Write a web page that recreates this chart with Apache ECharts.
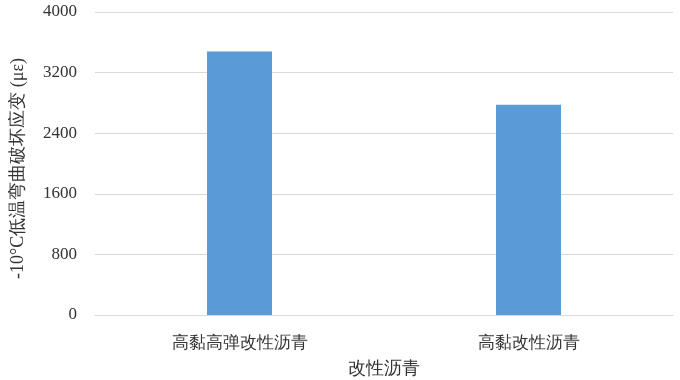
<!DOCTYPE html>
<html><head><meta charset="utf-8">
<script src="https://cdn.jsdelivr.net/npm/echarts@6/dist/echarts.min.js"></script>
<style>html,body{margin:0;padding:0;background:#fff}#c{width:680px;height:380px}</style>
</head><body><div id="c"></div>
<script>
const categories = ['高黏高弹改性沥青', '高黏改性沥青'];
const values = [3480, 2775];
const yTicks = [0, 800, 1600, 2400, 3200, 4000];
const fontFam = "'Liberation Serif'";
const chart = echarts.init(document.getElementById('c'));
chart.setOption({
  animation: false,
  textStyle: {fontFamily: fontFam},
  grid: {left: 95, right: 7, top: 12, bottom: 65, outerBoundsMode: 'none', containLabel: false},
  xAxis: {
    type: 'category', data: categories,
    name: '改性沥青', nameLocation: 'middle', nameGap: 45,
    nameTextStyle: {color: '#333333', fontSize: 18, fontFamily: fontFam},
    axisLine: {lineStyle: {color: '#d9d9d9'}},
    axisTick: {show: false},
    axisLabel: {color: '#333333', fontSize: 17, fontFamily: fontFam, margin: 20}
  },
  yAxis: {
    type: 'value', min: yTicks[0], max: yTicks[yTicks.length-1], interval: 800,
    name: '-10°C低温弯曲破坏应变 (με)', nameLocation: 'middle', nameGap: 68,
    nameTextStyle: {color: '#333333', fontSize: 18, fontFamily: fontFam, padding: [0, 10, 0, 0]},
    axisLine: {show: false}, axisTick: {show: false},
    splitLine: {lineStyle: {color: '#d9d9d9'}},
    axisLabel: {color: '#333333', fontSize: 17, fontFamily: fontFam, margin: 18, formatter: v => String(v)}
  },
  series: [{type: 'bar', data: values, barWidth: '22.5%', itemStyle: {color: '#5b9bd5'}}]
});
</script></body></html>
